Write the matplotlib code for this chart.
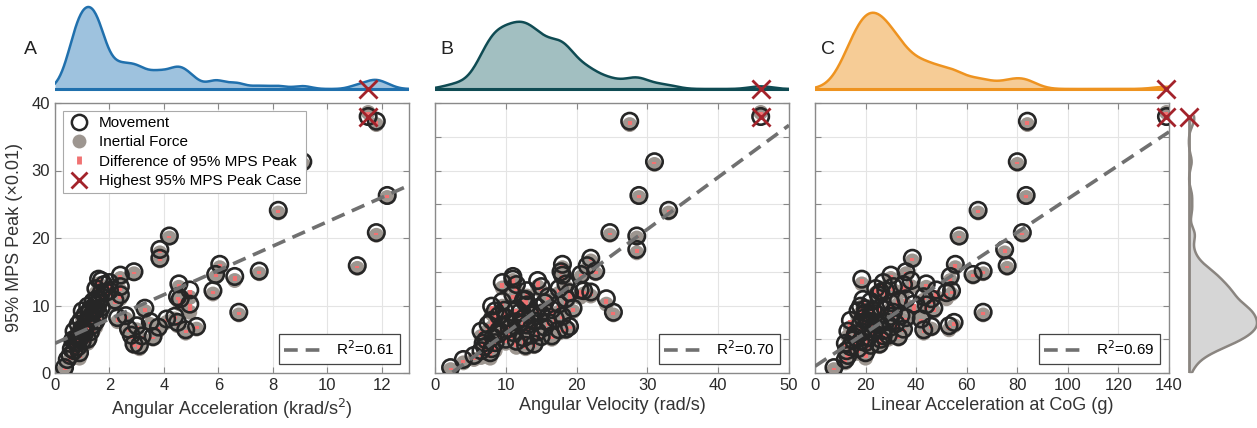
import numpy as np
import matplotlib
matplotlib.use('Agg')
import matplotlib.pyplot as plt
from matplotlib.lines import Line2D

plt.rcParams['font.family'] = ['Liberation Sans', 'DejaVu Sans']

# 95% MPS peak (x0.01) per case, movement simulation
mps = [38.0, 37.3, 31.3, 26.3, 24.1, 20.8, 20.3, 18.3, 17.0, 15.9, 16.1, 15.1, 14.6, 14.3, 15.0, 12.2, 9.0, 11.0,
       0.8, 2.0, 2.6, 3.0, 3.3, 3.6, 3.9, 4.1, 4.3, 4.5, 4.7, 4.9, 5.0, 5.2, 5.4, 5.5, 5.6, 5.8, 6.0, 6.1,
       6.2, 6.4, 6.5, 6.6, 6.8, 6.9, 7.0, 7.1, 7.2, 7.3, 7.5, 7.6, 7.7, 7.8, 8.0, 8.1, 8.2, 8.4, 8.5, 8.6,
       8.8, 9.0, 9.2, 9.4, 9.5, 9.6, 9.7, 9.9, 10.1, 10.2, 10.4, 10.6, 10.8, 11.0, 11.3, 11.6, 11.9, 12.2,
       12.3, 12.5, 12.8, 13.1, 13.2, 13.4, 13.7, 13.9, 14.5, 12.0, 7.4, 6.3, 5.3, 4.4, 8.9, 9.3, 10.9]
# movement minus inertial force
mps_diff = [-0.6, 0.5, 0.4, 0.3, 0.4, 0.4, 0.3, 0.5, 0.4, 0.4, 0.5, 0.4, 0.4, 0.6, 0.3, 0.5, 0.4, 0.8,
            0.3, 0.5, 0.6, 0.8, 1.0, 0.7, 1.1, 0.5, 0.4, 1.2, 0.9, 1.0, 0.6, 1.1, 0.4, 0.5, 0.6, 1.2, 0.9, 1.0,
            0.8, 0.5, 0.4, 1.1, 0.5, 0.4, 0.6, 1.0, 0.9, 1.2, 0.5, 0.4, 0.9, 1.1, 0.5, 1.0, 0.6, 0.4, 0.5, 1.2,
            1.0, 0.9, 1.1, 0.8, 1.0, 0.5, 0.9, 1.1, 0.8, 1.2, 0.9, 0.7, 0.6, 1.0, 0.5, 0.6, 0.9, 0.8,
            1.1, 0.7, 0.6, 0.9, 0.5, 0.8, 0.9, 0.7, 0.5, 0.6, 1.0, 0.9, 1.1, 0.8, 1.0, 0.9, 1.0]

ang_acc = [11.5, 11.8, 9.1, 12.2, 8.2, 11.8, 4.2, 3.85, 3.85, 11.1, 6.05, 7.5, 5.9, 6.6, 2.9, 5.8, 6.75, 4.6,
           0.35, 0.45, 0.55, 0.9, 0.7, 0.6, 0.85, 3.1, 2.9, 0.75, 1.0, 0.65, 1.2, 0.8, 3.6, 3.2, 2.8, 0.9, 1.1, 1.3,
           0.7, 4.8, 2.7, 1.0, 3.8, 5.2, 3.0, 1.4, 0.85, 1.2, 4.5, 3.5, 1.5, 0.95, 4.1, 1.3, 2.3, 4.4, 2.6, 1.1,
           1.6, 1.4, 1.0, 1.5, 1.3, 3.3, 1.7, 1.2, 1.5, 4.95, 1.6, 1.4, 2.2, 1.55, 4.5, 2.4, 1.7, 2.0,
           4.95, 1.5, 2.4, 1.8, 4.55, 2.0, 1.7, 1.6, 2.4, 1.9, 1.15, 1.05, 0.95, 0.8, 1.25, 1.45, 1.65]
ang_vel = [46.0, 27.5, 31.0, 28.8, 33.0, 24.7, 28.5, 28.5, 22.0, 21.5, 18.0, 22.7, 20.6, 11.0, 17.8, 21.0, 25.2, 24.2,
           2.2, 4.0, 5.5, 7.8, 6.5, 8.0, 7.0, 12.8, 14.0, 8.5, 11.5, 7.2, 10.0, 12.5, 15.0, 16.5, 13.5, 9.0, 11.0, 14.5,
           6.5, 17.5, 18.5, 10.5, 15.5, 19.0, 9.5, 13.0, 7.5, 12.0, 16.0, 11.5, 14.0, 8.0, 17.0, 12.5, 10.0, 18.0, 9.0, 13.5,
           15.0, 12.0, 8.5, 16.5, 11.5, 19.5, 14.5, 8.0, 13.0, 17.5, 15.5, 9.5, 12.5, 18.5, 16.0, 11.0, 19.0, 13.0,
           20.5, 17.5, 15.0, 11.5, 18.5, 9.5, 14.5, 11.0, 18.0, 22.0, 10.5, 9.0, 8.2, 6.8, 13.8, 9.8, 12.8]
lin_acc = [139, 84, 80, 83.5, 64.5, 82, 57, 75, 38.5, 76, 55.5, 66.5, 62.5, 53.5, 36, 54, 66.5, 46,
           7.5, 12, 13, 20, 12.5, 17, 14, 22, 25.5, 20, 18, 15, 26, 21, 33, 27, 29, 16, 23, 19,
           13, 43, 35, 24, 30, 46, 53, 25, 18, 32, 55, 28, 21, 14, 42, 19, 36, 30, 34, 22,
           24, 31, 17, 28, 20, 47, 26, 18, 44, 39, 30, 22, 33, 36, 43, 25, 52, 28,
           48, 24, 31, 35, 44, 27, 38, 18.5, 30, 26, 22, 27, 16, 12, 20, 23, 19]

x_sets = [ang_acc, ang_vel, lin_acc]
x_labels = ['Angular Acceleration (krad/s$^2$)', 'Angular Velocity (rad/s)', 'Linear Acceleration at CoG (g)']
x_lims = [13, 50, 140]
x_steps = [2, 10, 20]
panel_tags = ['A', 'B', 'C']
fit_slope = [1.80, 0.77, 0.248]
fit_icpt = [4.4, -1.8, 1.0]
r2 = [0.61, 0.70, 0.69]
kde_bw = [0.32, 1.6, 5.0]
kde_peak = [1.0, 0.82, 0.93]
top_line = ['#2070ad', '#0f4b53', '#ee9320']
top_fill = ['#94bcdb', '#98b8bb', '#f6c78b']

W, H = 1257, 428
fig = plt.figure(figsize=(W / 100, H / 100), dpi=100)

def fx(px):
    return px / W

def fy(px):
    return 1 - px / H

main_left = [55, 435, 815]
tag_x = [30, 447, 828]
ax_w = 354
top_px, bot_px = 103, 373

c_edge = '#262626'
c_grey = '#9d9690'
c_red = '#f07272'
c_x = '#a3232b'
c_fit = '#707070'

def kde(data, grid, bw):
    data = np.asarray(data, float)
    return np.exp(-0.5 * ((grid[:, None] - data[None, :]) / bw) ** 2).sum(axis=1)

mps_a = np.array(mps)
inert = mps_a - np.array(mps_diff)

for i in range(3):
    xs = np.array(x_sets[i])
    ax = fig.add_axes([fx(main_left[i]), fy(bot_px), fx(ax_w), (bot_px - top_px) / H])
    ax.set_xlim(0, x_lims[i])
    ax.set_ylim(0, 40)
    ax.set_xticks(np.arange(0, x_lims[i] + 0.1, x_steps[i]))
    if i == 0:
        ax.set_yticks([0, 10, 20, 30, 40])
        ax.set_ylabel('95% MPS Peak (×0.01)', fontsize=13, color='#333333', labelpad=6)
    else:
        ax.set_yticks(np.arange(0, 41, 5))
        ax.set_yticklabels([])
    ax.grid(True, color='#e4e4e4', lw=0.8)
    ax.set_axisbelow(True)
    ax.tick_params(direction='in', top=True, right=True, length=4, labelsize=12,
                   colors='#888888', labelcolor='#2a2a2a')
    for s in ax.spines.values():
        s.set_color('#8a8a8a')
        s.set_linewidth(1.0)
    ax.set_xlabel(x_labels[i], fontsize=13, color='#333333', labelpad=3)

    ax.scatter(xs, inert, s=115, color=c_grey, edgecolors='none', zorder=3)
    ax.vlines(xs, inert, mps_a, color=c_red, lw=3, zorder=4)
    ax.scatter(xs, mps_a, s=140, facecolors='none', edgecolors=c_edge, linewidths=1.9, zorder=5)
    ax.scatter([xs[0]], [mps_a[0]], marker='x', s=170, color=c_x, linewidths=2, zorder=6, clip_on=False)

    xl = np.array([0, x_lims[i]])
    fit, = ax.plot(xl, fit_slope[i] * xl + fit_icpt[i], color=c_fit, lw=2.6,
                   linestyle=(0, (3.8, 2.2)), zorder=6)
    lg = ax.legend([fit], [f'R$^2$={r2[i]:.2f}'], loc='lower right', fontsize=11,
                   fancybox=False, edgecolor='#444444', framealpha=1, borderpad=0.35,
                   handlelength=2.6, borderaxespad=0.6)
    lg.get_frame().set_linewidth(0.9)

    if i == 0:
        h = [Line2D([], [], ls='none', marker='o', ms=11, mfc='none', mec=c_edge, mew=1.8),
             Line2D([], [], ls='none', marker='o', ms=10, mfc=c_grey, mec='none'),
             Line2D([], [], ls='none', marker='|', ms=6, mew=3.5, color=c_red),
             Line2D([], [], ls='none', marker='x', ms=12, mew=2, color=c_x)]
        lab = ['Movement', 'Inertial Force', 'Difference of 95% MPS Peak', 'Highest 95% MPS Peak Case']
        lg2 = ax.legend(h, lab, loc='upper left', fontsize=11, fancybox=False, edgecolor='#aaaaaa',
                        framealpha=1, borderpad=0.35, labelspacing=0.35, handletextpad=0.5,
                        borderaxespad=0.5, handlelength=1.5)
        lg2.get_frame().set_linewidth(0.8)
        ax.add_artist(lg)

    # top marginal density
    tax = fig.add_axes([fx(main_left[i]), fy(93), fx(ax_w), 90 / H])
    grid = np.linspace(0, x_lims[i], 400)
    d = kde(xs, grid, kde_bw[i])
    d = d / d.max() * kde_peak[i]
    tax.fill_between(grid, 0, d, color=top_fill[i], alpha=0.9, lw=0)
    tax.plot(grid, d, color=top_line[i], lw=1.8)
    tax.axhline(0, color=top_line[i], lw=2.2)
    tax.scatter([xs[0]], [0], marker='x', s=170, color=c_x, linewidths=2, zorder=6, clip_on=False)
    tax.set_xlim(0, x_lims[i])
    tax.set_ylim(-4 / 82, 86 / 82)
    tax.axis('off')

    fig.text(fx(tag_x[i]), fy(50), panel_tags[i], fontsize=14, color='#222222',
             ha='center', va='center')

# right marginal density of MPS
rax = fig.add_axes([fx(1186), fy(bot_px), fx(W - 1186), (bot_px - top_px) / H])
ygrid = np.linspace(0, 38, 400)
dy = kde(mps, ygrid, 1.1)
dy = dy / dy.max()
rax.fill_betweenx(ygrid, 0, dy, color='#d6d6d6', lw=0)
rax.plot(dy, ygrid, color='#8a8580', lw=1.8)
rax.plot([0, 0], [0, 38], color='#8a8580', lw=2)
rax.scatter([0], [mps[0]], marker='x', s=170, color=c_x, linewidths=2, zorder=6, clip_on=False)
rax.set_ylim(0, 40)
rax.set_xlim(-0.04, 1.0)
rax.axis('off')

fig.savefig('out.png', dpi=100)
